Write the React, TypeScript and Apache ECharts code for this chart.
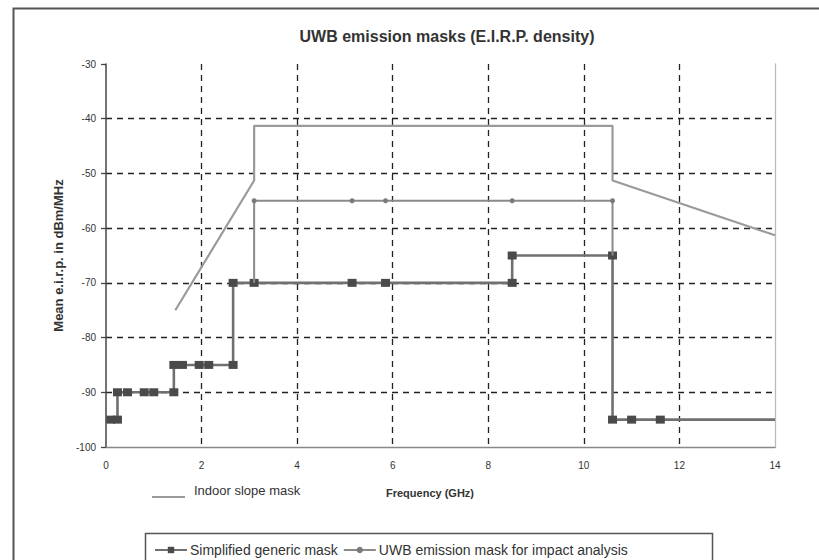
import React, { useEffect, useRef } from "react";
import * as echarts from "echarts";

const titleText = "UWB emission masks (E.I.R.P. density)";
const xAxisName = "Frequency (GHz)";
const yAxisName = "Mean e.i.r.p. in dBm/MHz";

const seriesNames = [
  "Indoor slope mask",
  "Simplified generic mask",
  "UWB emission mask for impact analysis",
];

// Indoor slope mask
const indoorFreq = [1.45, 3.1, 3.1, 10.6, 10.6, 14];
const indoorLevel = [-75, -51.3, -41.3, -41.3, -51.3, -61.3];

// Simplified generic mask (step function)
const simpleFreq = [0.1, 0.24, 0.24, 0.45, 0.8, 1.0, 1.42, 1.42, 1.6, 1.95, 2.15, 2.66, 2.66, 3.1, 5.15, 5.85, 8.5, 8.5, 10.6, 10.6, 11.0, 11.6, 14];
const simpleLevel = [-95, -95, -90, -90, -90, -90, -90, -85, -85, -85, -85, -85, -70, -70, -70, -70, -70, -65, -65, -95, -95, -95, -95];
const simpleMarked = [true, true, true, true, true, true, true, true, true, true, true, true, true, true, true, true, true, true, true, true, true, true, false];

// UWB emission mask for impact analysis
const impactFreq = [3.1, 3.1, 5.15, 5.85, 8.5, 10.6, 10.6];
const impactLevel = [-70, -55, -55, -55, -55, -55, -65];
const impactMarked = [false, true, true, true, true, true, false];

const xMin = 0, xMax = 14, xStep = 2;
const yMin = -100, yMax = -30, yStep = 10;

const FONT = "Liberation Sans";

export default function App() {
  const ref = useRef<HTMLDivElement>(null);
  useEffect(() => {
    if (!ref.current) return;
    const chart = echarts.init(ref.current, null, { renderer: "svg" });

    const indoorData = indoorFreq.map((f, i) => [f, indoorLevel[i]]);
    const simpleData = simpleFreq.map((f, i) =>
      simpleMarked[i] ? { value: [f, simpleLevel[i]] } : { value: [f, simpleLevel[i]], symbol: "none" }
    );
    const impactData = impactFreq.map((f, i) =>
      impactMarked[i] ? { value: [f, impactLevel[i]] } : { value: [f, impactLevel[i]], symbol: "none" }
    );

    const dashed = { type: [6, 5] as any, color: "#222", width: 1.3 };

    chart.setOption({
      animation: false,
      backgroundColor: "#fff",
      title: {
        text: titleText,
        left: 442,
        top: 23,
        textAlign: "center",
        textStyle: { fontFamily: FONT, fontSize: 16, fontWeight: "bold", color: "#333" },
      },
      grid: { left: 106, right: 44, top: 64, bottom: 113, containLabel: false },
      legend: [
        {
          data: [seriesNames[1], seriesNames[2]],
          left: 149,
          top: 538,
          itemGap: 5,
          itemWidth: 32,
          itemHeight: 8,
          textStyle: { fontFamily: FONT, fontSize: 14, color: "#333", padding: [0, 0, 0, -2] },
        },
        {
          data: [{ name: seriesNames[0], icon: "path://M0,0 L0.01,0 L0.01,0.01 Z M0,14 L33,14 L33,16 L0,16 Z" }],
          left: 147,
          top: 477,
          itemWidth: 33,
          itemHeight: 16,
          itemGap: 4,
          textStyle: { fontFamily: FONT, fontSize: 13, color: "#333", padding: [0, 0, 0, 4] },
        },
      ],
      xAxis: {
        type: "value",
        min: xMin,
        max: xMax,
        interval: xStep,
        axisLine: { show: true, onZero: false, lineStyle: { color: "#888", width: 1.3 } },
        axisTick: { show: false },
        axisLabel: { fontFamily: FONT, fontSize: 10, color: "#333", margin: 13 },
        splitLine: { show: true, showMinLine: false, showMaxLine: false, lineStyle: dashed },
      },
      yAxis: [
        {
          type: "value",
          min: yMin,
          max: yMax,
          interval: yStep,
          name: yAxisName,
          nameLocation: "middle",
          nameGap: 38,
          nameTextStyle: { fontFamily: FONT, fontSize: 13, fontWeight: "bold", color: "#333" },
          axisLine: { show: true, onZero: false, lineStyle: { color: "#444", width: 1.5 } },
          axisTick: { show: true, length: 5, lineStyle: { color: "#444", width: 1.3 } },
          axisLabel: { fontFamily: FONT, fontSize: 10, color: "#333", margin: 10 },
          splitLine: { show: true, showMinLine: false, showMaxLine: false, lineStyle: dashed },
        },
        {
          type: "value",
          min: yMin,
          max: yMax,
          interval: yStep,
          position: "right",
          axisLine: { show: true, onZero: false, lineStyle: { color: "#bbb", width: 1.3 } },
          axisTick: { show: false },
          axisLabel: { show: false },
          splitLine: { show: false },
        },
      ],
      series: [
        {
          name: seriesNames[0],
          type: "line",
          data: indoorData,
          symbol: "none",
          lineStyle: { color: "#9a9a9a", width: 2.2 },
          itemStyle: { color: "#9a9a9a" },
          z: 2,
        },
        {
          name: seriesNames[1],
          type: "line",
          data: simpleData,
          symbol: "rect",
          symbolSize: [9, 8],
          lineStyle: { color: "#707070", width: 2.6 },
          itemStyle: { color: "#4a4a4a" },
          z: 3,
        },
        {
          name: seriesNames[2],
          type: "line",
          data: impactData,
          symbol: "circle",
          symbolSize: 5,
          lineStyle: { color: "#8a8a8a", width: 2 },
          itemStyle: { color: "#7a7a7a" },
          z: 4,
        },
      ],
      graphic: [
        {
          type: "rect",
          shape: { x: 13.5, y: 8.5, width: 900, height: 700 },
          style: { fill: "none", stroke: "#555", lineWidth: 2 },
          silent: true,
        },
        {
          type: "rect",
          shape: { x: 145.5, y: 533.5, width: 567, height: 60 },
          style: { fill: "none", stroke: "#555", lineWidth: 1.5 },
          silent: true,
        },
        {
          type: "text",
          x: 430,
          y: 493,
          style: {
            text: xAxisName,
            fontFamily: FONT,
            fontSize: 11,
            fontWeight: "bold",
            fill: "#333",
            align: "center",
            verticalAlign: "middle",
          },
          silent: true,
        },
      ],
    });
    return () => chart.dispose();
  }, []);
  return <div ref={ref} style={{ width: 819, height: 560, position: "absolute", left: 0, top: 0 }} />;
}
